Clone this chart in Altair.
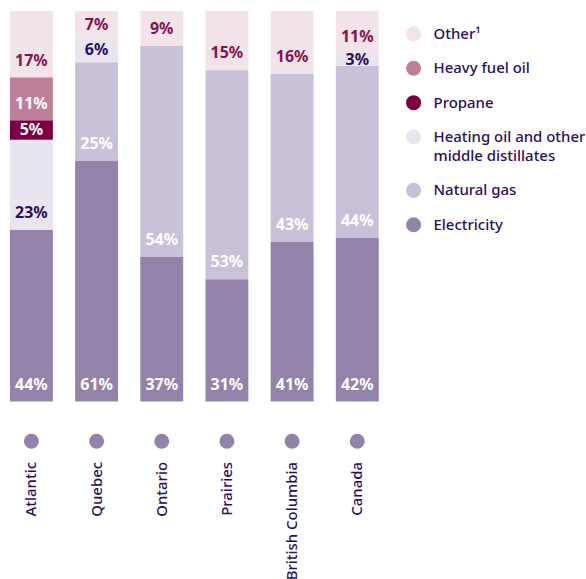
import altair as alt
import pandas as pd

regions = ["Atlantic", "Quebec", "Ontario", "Prairies", "British Columbia", "Canada"]
# stacked from bottom to top
types = ["Electricity", "Natural gas", "Heating oil and other middle distillates",
         "Propane", "Heavy fuel oil", "Other¹"]
electricity = [44, 61, 37, 31, 41, 42]
natural_gas = [0, 25, 54, 53, 43, 44]
heating_oil = [23, 6, 0, 0, 0, 3]
propane = [5, 0, 0, 0, 0, 0]
heavy_fuel_oil = [11, 0, 0, 0, 0, 0]
other = [17, 7, 9, 15, 16, 11]
series = [electricity, natural_gas, heating_oil, propane, heavy_fuel_oil, other]

legend_labels = ["Other¹", "Heavy fuel oil", "Propane",
                 "Heating oil and other\nmiddle distillates", "Natural gas", "Electricity"]

fill_colors = ["#9383ab", "#c9c1d7", "#e8e5ee", "#7b0041", "#bf7f9b", "#f2e4ea"]
text_colors = ["#ffffff", "#ffffff", "#2c0e5e", "#ffffff", "#ffffff", "#87124f"]
ink = "#2c0e5e"
FONT = "Noto Sans"

rows = []
for ti, (t, vals) in enumerate(zip(types, series)):
    for r, v in zip(regions, vals):
        if v > 0:
            rows.append({"region": r, "type": t, "ord": ti, "value": v, "label": f"{v}%"})
df = pd.DataFrame(rows)

W, H = 390, 392
xenc = alt.X("region:N", sort=regions,
             scale=alt.Scale(paddingInner=0.342, paddingOuter=0.153),
             axis=alt.Axis(title=None, labelAngle=270, ticks=False, domain=False,
                           labelPadding=60, labelFontSize=15, labelColor=ink,
                           labelFont=FONT, labelFontWeight=500))
ysc = alt.Scale(domain=[0, 1])

base = alt.Chart(df).transform_stack(
    stack="value", groupby=["region"], as_=["lo", "hi"],
    offset="normalize", sort=[alt.SortField("ord", order="ascending")]
)

bars = base.mark_bar().encode(
    x=xenc,
    y=alt.Y("lo:Q", scale=ysc, axis=None),
    y2="hi:Q",
    color=alt.Color("type:N", scale=alt.Scale(domain=types, range=fill_colors), legend=None),
)

labels = base.transform_calculate(
    ly="datum.lo + min((datum.hi - datum.lo) / 2, 0.043)"
).mark_text(font=FONT, fontSize=16, fontWeight="bold", baseline="middle").encode(
    x=alt.X("region:N", sort=regions),
    y=alt.Y("ly:Q", scale=ysc, axis=None),
    text="label:N",
    color=alt.Color("type:N", scale=alt.Scale(domain=types, range=text_colors), legend=None),
)

dots = alt.Chart(pd.DataFrame({"region": regions})).mark_circle(
    size=227, opacity=1, color="#9383ab"
).encode(
    x=alt.X("region:N", sort=regions),
    y=alt.value(H + 39.7),
)

main = alt.layer(bars, labels, dots).resolve_scale(color="independent").properties(
    width=W, height=H
)

# legend
lines = [lab.count("\n") + 1 for lab in legend_labels]
slots = []
acc = 0.0
for n in lines:
    slots.append(acc)
    acc += 1 + 0.55 * (n - 1)
leg_df = pd.DataFrame({
    "label": legend_labels,
    "slot": slots,
    "type": list(reversed(types)),
})
step = 34.5
top = 23.0
yleg = alt.Y("slot:Q", axis=None,
             scale=alt.Scale(domain=[-top / step, (H - top) / step], reverse=True, nice=False, zero=False))
leg_dots = alt.Chart(leg_df).mark_circle(size=227, opacity=1).encode(
    x=alt.value(25),
    y=yleg,
    color=alt.Color("type:N", scale=alt.Scale(domain=types, range=fill_colors), legend=None),
)
leg_text = alt.Chart(leg_df).mark_text(
    font=FONT, fontSize=15, fontWeight=500, align="left", baseline="top", dy=-7,
    lineBreak="\n", lineHeight=19, color=ink
).encode(
    x=alt.value(45),
    y=yleg,
    text="label:N",
)
legend = alt.layer(leg_dots, leg_text).properties(width=196, height=H)

chart = alt.hconcat(main, legend, spacing=0).properties(
    padding={"left": 0, "top": 10, "right": 0, "bottom": 0},
).configure_view(stroke=None)

chart.save("out.html", embed_options={"renderer": "svg", "actions": False})
